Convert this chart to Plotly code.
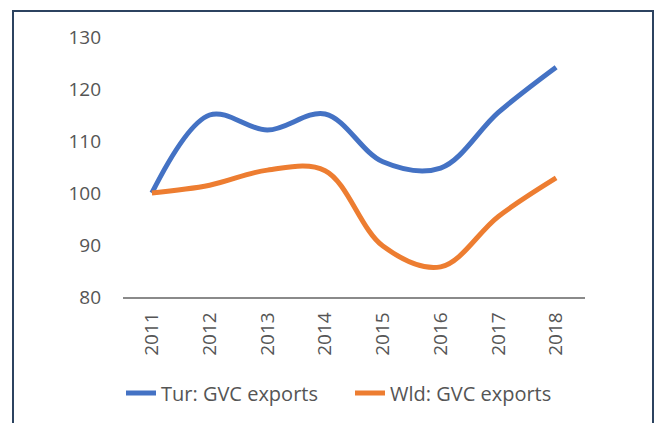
import plotly.graph_objects as go

years = ["2011", "2012", "2013", "2014", "2015", "2016", "2017", "2018"]
tur_gvc = [100, 115.0, 112.1, 115.2, 106.0, 104.8, 115.5, 124.2]
wld_gvc = [100, 101.5, 104.4, 104.3, 89.8, 85.8, 95.5, 102.9]
y_ticks = [80, 90, 100, 110, 120, 130]

FONT = "Open Sans"
TXT = "#555555"

fig = go.Figure()
fig.add_trace(go.Scatter(x=years, y=tur_gvc, name="Tur: GVC exports", mode="lines",
                         line=dict(color="#4472C4", width=5, shape="spline", smoothing=1.0)))
fig.add_trace(go.Scatter(x=years, y=wld_gvc, name="Wld: GVC exports", mode="lines",
                         line=dict(color="#ED7D31", width=5, shape="spline", smoothing=1.0)))

W, H = 655, 423
L, T = 123, 37
B = H - 297
R = W - 585
pw = W - L - R
ph = H - T - B

def px_x(x):
    return (x - L) / pw

def px_y(y):
    return (H - B - y) / ph

fig.update_layout(
    width=W, height=H,
    margin=dict(l=L, r=R, t=T, b=B),
    paper_bgcolor="white", plot_bgcolor="white",
    font=dict(family=FONT, size=19, color=TXT),
    showlegend=True,
    legend=dict(orientation="h", xref="container", yref="container",
                x=121 / W, y=1 - 393 / H, xanchor="left", yanchor="middle",
                font=dict(family=FONT, size=20, color=TXT),
                entrywidth=184, tracegroupgap=0),
    xaxis=dict(type="category", range=[-0.5, 7.5], showgrid=False, zeroline=False,
               showline=True, linecolor="#8a8a8a", linewidth=1.5,
               tickangle=-90, ticks="", ticklabelstandoff=6,
               tickfont=dict(family=FONT, size=19, color=TXT)),
    yaxis=dict(range=[80, 130], tickvals=y_ticks, showgrid=False, zeroline=False,
               showline=False, ticks="", ticklabelstandoff=21,
               tickfont=dict(family=FONT, size=19, color=TXT)),
    shapes=[dict(type="rect", xref="paper", yref="paper",
                 x0=px_x(13), x1=px_x(653), y0=px_y(440), y1=px_y(11),
                 line=dict(color="#2c4360", width=2), fillcolor="rgba(0,0,0,0)",
                 layer="above")],
)

fig.write_html("out.html",
               config={"displayModeBar": False},
               post_script="document.body.style.margin='0';"
                           "document.documentElement.style.overflow='hidden';"
                           "document.body.style.overflow='hidden';")
